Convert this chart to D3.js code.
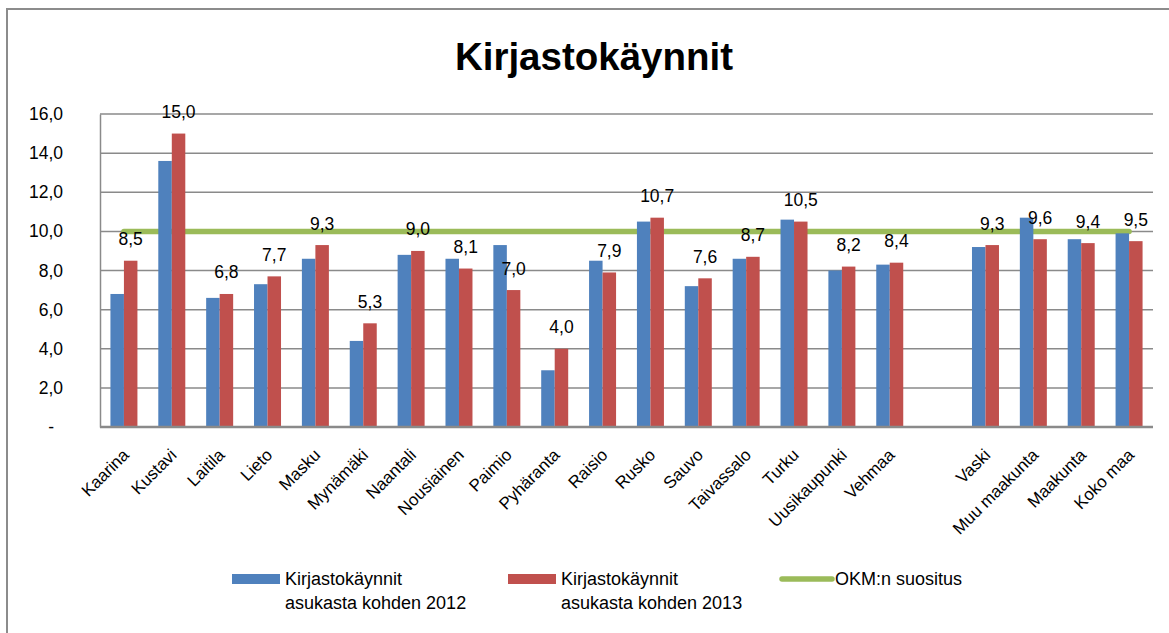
<!DOCTYPE html>
<html><head><meta charset="utf-8">
<script src="https://cdn.jsdelivr.net/npm/d3@7"></script>
<style>
html,body{margin:0;padding:0;background:#fff;}
svg{display:block;font-family:"Liberation Sans",Arial,sans-serif;}
</style></head>
<body>
<svg id="chart" width="1169" height="633"></svg>
<script>
const title = "Kirjastokäynnit";
const categories = ["Kaarina","Kustavi","Laitila","Lieto","Masku","Mynämäki","Naantali","Nousiainen","Paimio","Pyhäranta","Raisio","Rusko","Sauvo","Taivassalo","Turku","Uusikaupunki","Vehmaa"," ","Vaski","Muu maakunta","Maakunta","Koko maa"];
const values2012 = [6.8,13.6,6.6,7.3,8.6,4.4,8.8,8.6,9.3,2.9,8.5,10.5,7.2,8.6,10.6,8.0,8.3,null,9.2,10.7,9.6,9.9];
const values2013 = [8.5,15.0,6.8,7.7,9.3,5.3,9.0,8.1,7.0,4.0,7.9,10.7,7.6,8.7,10.5,8.2,8.4,null,9.3,9.6,9.4,9.5];
const okmValues = [10,10,10,10,10,10,10,10,10,10,10,10,10,10,10,10,10,10,10,10,10,10];
const yTicks = [0,2,4,6,8,10,12,14,16];
const seriesNames = ["Kirjastokäynnit|asukasta kohden 2012","Kirjastokäynnit|asukasta kohden 2013","OKM:n suositus"];
const colors = ["#4F81BD","#C0504D","#9BBB59"];

const svg = d3.select("#chart");
const plot = {left:100, right:1153, top:114, bottom:427};

// outer border
svg.append("rect").attr("x",7).attr("y",9).attr("width",1180).attr("height",640)
  .attr("fill","none").attr("stroke","#8c8c8c").attr("stroke-width",2);

// title
svg.append("text").attr("x",594).attr("y",70).attr("text-anchor","middle")
  .attr("font-size",38.5).attr("font-weight","bold").attr("fill","#000").text(title);

const x = d3.scaleBand().domain(categories).range([plot.left, plot.right])
  .paddingInner(0.436).paddingOuter(0.218);
const xs = d3.scaleBand().domain([0,1]).range([0, x.bandwidth()]);
const y = d3.scaleLinear().domain([0,16]).range([plot.bottom, plot.top]);

// gridlines
svg.append("g").selectAll("line").data(yTicks.filter(d=>d>0)).join("line")
  .attr("x1",plot.left).attr("x2",plot.right)
  .attr("y1",d=>y(d)).attr("y2",d=>y(d))
  .attr("stroke","#8a8a8a").attr("stroke-width",1.5);

// y axis
const yAxis = d3.axisLeft(y).tickValues(yTicks).tickSize(0).tickPadding(37)
  .tickFormat(d => d===0 ? "-" : d3.format(".1f")(d).replace(".",","));
const yg = svg.append("g").attr("transform",`translate(${plot.left},0)`).call(yAxis);
yg.select(".domain").attr("stroke","#8a8a8a").attr("stroke-width",1.5);
yg.selectAll("text").attr("font-size",17.5).attr("fill","#000")
  .attr("font-family","Liberation Sans, Arial, sans-serif");
yg.selectAll(".tick").filter(d=>d===0).select("text").attr("dx",-9);

// OKM line (behind bars)
const line = d3.line().x((d,i)=>x(categories[i])+x.bandwidth()/2).y(d=>y(d));
svg.append("path").datum(okmValues).attr("d",line)
  .attr("fill","none").attr("stroke",colors[2]).attr("stroke-width",5.5).attr("stroke-linecap","round");

// bars
const series = [values2012, values2013];
series.forEach((vals, si) => {
  svg.append("g").selectAll("rect").data(vals.map((v,i)=>({v,c:categories[i]})).filter(d=>d.v!=null))
    .join("rect")
    .attr("x",d=>x(d.c)+xs(si)).attr("width",xs.bandwidth())
    .attr("y",d=>y(d.v)).attr("height",d=>y(0)-y(d.v))
    .attr("fill",colors[si]);
});

// x axis line
svg.append("line").attr("x1",plot.left).attr("x2",plot.right)
  .attr("y1",plot.bottom).attr("y2",plot.bottom)
  .attr("stroke","#8a8a8a").attr("stroke-width",2.5);

// x labels
svg.append("g").selectAll("text").data(categories).join("text")
  .attr("transform",d=>`translate(${x(d)+x.bandwidth()/2+6},${plot.bottom+29}) rotate(-45)`)
  .attr("text-anchor","end").attr("font-size",17).attr("fill","#000").text(d=>d.trim());

// data labels (2013)
svg.append("g").selectAll("text").data(values2013.map((v,i)=>({v,c:categories[i]})).filter(d=>d.v!=null))
  .join("text")
  .attr("x",d=>x(d.c)+xs(1)+xs.bandwidth()/2)
  .attr("y",d=>y(d.v)-15.5)
  .attr("text-anchor","middle").attr("font-size",17.5).attr("fill","#000")
  .text(d=>d3.format(".1f")(d.v).replace(".",","));

// legend
const lg = svg.append("g");
const legendX = [232, 508, 782];
[0,1].forEach(i=>{
  lg.append("rect").attr("x",legendX[i]).attr("y",574).attr("width",48).attr("height",10).attr("fill",colors[i]);
  const parts = seriesNames[i].split("|");
  const t = lg.append("text").attr("x",legendX[i]+53).attr("y",585).attr("font-size",18).attr("fill","#000");
  t.append("tspan").attr("x",legendX[i]+53).attr("y",585).text(parts[0]);
  t.append("tspan").attr("x",legendX[i]+53).attr("y",609).text(parts[1]);
});
lg.append("line").attr("x1",legendX[2]).attr("x2",legendX[2]+50).attr("y1",579).attr("y2",579)
  .attr("stroke",colors[2]).attr("stroke-width",5.5).attr("stroke-linecap","round");
lg.append("text").attr("x",legendX[2]+53).attr("y",585).attr("font-size",18).attr("fill","#000").text(seriesNames[2]);
</script>
</body></html>
